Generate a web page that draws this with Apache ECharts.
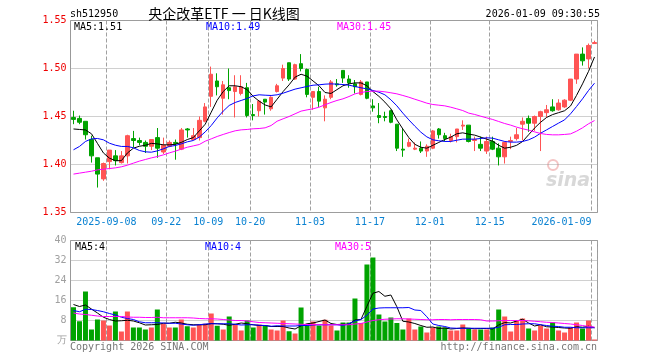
<!DOCTYPE html>
<html><head><meta charset="utf-8">
<script src="https://cdn.jsdelivr.net/npm/echarts@6/dist/echarts.min.js"></script>
<style>html,body{margin:0;padding:0;background:#fff}#c{width:660px;height:360px}</style>
</head><body><div id="c"></div>
<script>
// ---- data ----
const dates = [
'2025-08-29','2025-09-01','2025-09-02','2025-09-03','2025-09-04','2025-09-05','2025-09-08','2025-09-09','2025-09-10','2025-09-11',
'2025-09-12','2025-09-15','2025-09-16','2025-09-17','2025-09-18','2025-09-19','2025-09-22','2025-09-23','2025-09-24','2025-09-25',
'2025-09-26','2025-09-29','2025-09-30','2025-10-09','2025-10-10','2025-10-13','2025-10-14','2025-10-15','2025-10-16','2025-10-17',
'2025-10-20','2025-10-21','2025-10-22','2025-10-23','2025-10-24','2025-10-27','2025-10-28','2025-10-29','2025-10-30','2025-10-31',
'2025-11-03','2025-11-04','2025-11-05','2025-11-06','2025-11-07','2025-11-10','2025-11-11','2025-11-12','2025-11-13','2025-11-14',
'2025-11-17','2025-11-18','2025-11-19','2025-11-20','2025-11-21','2025-11-24','2025-11-25','2025-11-26','2025-11-27','2025-11-28',
'2025-12-01','2025-12-02','2025-12-03','2025-12-04','2025-12-05','2025-12-08','2025-12-09','2025-12-10','2025-12-11','2025-12-12',
'2025-12-15','2025-12-16','2025-12-17','2025-12-18','2025-12-19','2025-12-22','2025-12-23','2025-12-24','2025-12-25','2025-12-26',
'2025-12-29','2025-12-30','2025-12-31','2026-01-05','2026-01-06','2026-01-07','2026-01-08','2026-01-09'];

const opens = [
1.449,1.448,1.445,1.426,1.407,1.385,1.403,1.409,1.402,1.409,1.427,1.425,1.423,1.419,1.428,1.413,1.419,1.423,1.416,1.437,1.426,1.428,
1.445,1.471,1.487,1.469,1.480,1.476,1.474,1.480,1.452,1.456,1.468,1.458,1.476,1.490,1.506,1.489,1.505,1.499,1.470,1.476,1.459,1.470,
1.484,1.498,1.489,1.484,1.473,1.486,1.461,1.451,1.450,1.456,1.442,1.416,1.419,1.416,1.417,1.414,1.417,1.437,1.430,1.425,1.429,1.440,
1.441,1.425,1.421,1.414,1.424,1.417,1.408,1.424,1.427,1.442,1.448,1.443,1.450,1.454,1.460,1.457,1.460,1.467,1.489,1.515,1.510,1.526];
const closes = [
1.447,1.444,1.431,1.409,1.390,1.401,1.415,1.404,1.409,1.430,1.425,1.423,1.419,1.426,1.417,1.420,1.423,1.422,1.436,1.436,1.430,1.446,
1.460,1.494,1.481,1.483,1.477,1.481,1.481,1.451,1.451,1.466,1.465,1.470,1.482,1.500,1.489,1.504,1.500,1.473,1.476,1.466,1.468,1.486,
1.483,1.490,1.485,1.481,1.486,1.469,1.459,1.449,1.449,1.444,1.417,1.415,1.423,1.417,1.414,1.419,1.435,1.431,1.427,1.429,1.437,1.441,
1.424,1.426,1.417,1.424,1.416,1.408,1.423,1.425,1.431,1.445,1.443,1.450,1.455,1.457,1.456,1.464,1.467,1.489,1.515,1.508,1.524,1.527];
const lows = [
1.442,1.442,1.426,1.402,1.376,1.383,1.395,1.399,1.401,1.401,1.418,1.420,1.412,1.415,1.407,1.411,1.418,1.405,1.415,1.428,1.426,1.425,
1.444,1.460,1.472,1.452,1.468,1.449,1.472,1.449,1.446,1.450,1.452,1.456,1.475,1.487,1.487,1.488,1.497,1.470,1.457,1.460,1.445,1.468,
1.481,1.485,1.480,1.474,1.472,1.468,1.455,1.443,1.445,1.443,1.414,1.408,1.418,1.415,1.412,1.408,1.416,1.427,1.424,1.423,1.423,1.436,
1.423,1.414,1.414,1.411,1.415,1.399,1.401,1.416,1.425,1.425,1.434,1.435,1.414,1.449,1.455,1.456,1.459,1.466,1.484,1.503,1.500,1.526];
const highs = [
1.456,1.451,1.445,1.430,1.407,1.402,1.415,1.415,1.414,1.431,1.435,1.428,1.425,1.426,1.438,1.428,1.425,1.426,1.438,1.438,1.438,1.450,
1.464,1.502,1.495,1.487,1.500,1.493,1.493,1.485,1.463,1.467,1.468,1.471,1.484,1.504,1.506,1.505,1.515,1.500,1.476,1.481,1.472,1.488,
1.489,1.498,1.493,1.488,1.488,1.486,1.468,1.464,1.455,1.457,1.442,1.438,1.427,1.423,1.424,1.421,1.436,1.438,1.433,1.432,1.437,1.446,
1.441,1.429,1.429,1.429,1.429,1.422,1.424,1.429,1.438,1.449,1.451,1.451,1.456,1.462,1.468,1.468,1.468,1.489,1.515,1.522,1.526,1.529];

const ma5 = [
1.437,1.4365,1.436,1.432,1.422,1.412,1.4066,1.404,1.404,1.412,1.417,1.419,1.420,1.422,1.4215,1.4205,1.4205,1.421,1.423,1.426,1.428,1.435,
1.442,1.4545,1.467,1.476,1.482,1.482,1.481,1.478,1.471,1.466,1.462,1.460,1.468,1.476,1.483,1.491,1.494,1.492,1.487,1.482,1.475,1.474,
1.478,1.482,1.484,1.485,1.485,1.482,1.476,1.471,1.465,1.458,1.4465,1.437,1.428,1.421,1.418,1.417,1.420,1.423,1.426,1.4285,1.432,1.433,
1.4316,1.4306,1.4285,1.4264,1.4243,1.420,1.417,1.418,1.420,1.424,1.431,1.438,1.444,1.449,1.452,1.454,1.456,1.461,1.472,1.484,1.497,1.512];
const ma10 = [
1.4153,1.4188,1.424,1.4267,1.4271,1.4257,1.4222,1.4201,1.4188,1.4188,1.4174,1.4146,1.4132,1.4128,1.4142,1.4163,1.4188,1.4198,1.4215,1.4236,1.425,1.4285,
1.434,1.4406,1.4486,1.4556,1.4615,1.4646,1.4667,1.4688,1.4715,1.4726,1.4722,1.4719,1.4726,1.4743,1.4764,1.4785,1.4799,1.4813,1.4826,1.483,1.4837,1.484,
1.4837,1.4833,1.4826,1.4813,1.4799,1.4788,1.4771,1.4753,1.4726,1.4674,1.4611,1.4535,1.4465,1.4399,1.4337,1.4288,1.4257,1.4247,1.424,1.424,1.4253,1.4264,
1.4264,1.4264,1.4271,1.4278,1.4274,1.4257,1.424,1.4233,1.4233,1.424,1.4257,1.4285,1.4326,1.4361,1.4396,1.4431,1.4465,1.4528,1.4604,1.4684,1.4771,1.4847];
const ma30 = [
1.390,1.391,1.392,1.393,1.3944,1.3951,1.3958,1.3965,1.3976,1.3993,1.4014,1.4035,1.4052,1.4069,1.4083,1.410,1.4121,1.4139,1.416,1.418,1.4194,1.4208,
1.4243,1.4267,1.4292,1.4313,1.4333,1.4351,1.4361,1.4365,1.4372,1.4375,1.4382,1.4406,1.4451,1.4476,1.450,1.4528,1.4556,1.4569,1.458,1.4597,1.4622,1.4646,
1.4667,1.4684,1.4708,1.4736,1.475,1.476,1.4764,1.4764,1.4757,1.4747,1.4736,1.4719,1.4701,1.468,1.466,1.4639,1.4625,1.4618,1.4611,1.4597,1.458,1.4562,
1.4535,1.4521,1.4503,1.4486,1.4469,1.4448,1.4427,1.441,1.4389,1.4372,1.4358,1.434,1.4323,1.4313,1.4309,1.4309,1.4313,1.4319,1.4347,1.4382,1.4424,1.4458];

const volumes = [
13.3,7.7,19.6,4.4,8.4,8.0,6.0,11.6,3.6,11.6,5.2,5.2,4.4,5.2,12.4,6.7,5.2,5.2,8.4,5.7,5.2,6.3,
6.7,10.8,5.9,4.4,9.6,6.4,4.0,8.0,5.2,6.4,6.0,4.4,4.0,8.0,3.7,2.8,13.2,6.0,7.6,6.0,8.3,6.0,
4.0,7.2,7.2,16.8,7.0,30.4,33.2,10.4,7.6,9.2,7.0,4.4,8.8,4.4,5.6,3.2,5.2,5.6,5.2,4.0,4.0,6.4,
4.8,4.4,4.4,4.4,5.2,12.4,9.6,3.6,8.0,8.8,4.8,4.0,6.0,4.8,7.2,4.0,3.2,5.2,7.2,4.8,8.0,0.4];
const volMa5 = [
14.4,13.6,14.2,12.6,11.0,9.3,8.4,7.8,7.9,8.1,7.8,7.1,6.2,6.3,6.4,6.9,6.9,7.3,7.0,6.5,6.3,6.3,
6.3,6.8,6.7,6.5,6.1,6.5,7.0,6.7,6.3,6.0,6.0,5.6,5.6,5.6,5.0,4.6,5.9,6.7,7.0,7.6,8.2,6.8,
6.4,6.5,6.5,8.2,8.4,13.7,18.9,19.6,17.7,18.2,13.5,7.7,7.4,6.8,6.0,5.3,5.4,4.8,5.0,4.6,4.8,5.0,
4.9,4.7,4.8,4.8,4.6,6.2,7.2,7.0,7.8,8.5,7.0,5.8,6.3,5.5,5.4,5.2,5.0,4.9,5.5,5.3,5.7,5.1];
const volMa10 = [
12.0,11.5,12.5,12.4,12.0,11.5,10.8,10.2,9.3,8.8,8.4,7.5,7.1,7.1,7.1,7.0,6.9,6.9,6.6,6.3,6.1,6.3,
6.6,6.7,6.7,6.7,6.7,6.5,6.2,6.3,6.3,6.1,6.0,5.7,5.9,5.8,5.8,5.8,6.0,6.0,6.2,6.3,6.3,6.3,
6.3,6.0,6.7,7.8,8.4,10.1,12.6,13.0,13.1,13.1,13.1,13.1,13.2,12.2,12.0,9.5,6.6,6.0,5.6,5.0,4.9,4.9,
4.9,4.9,4.9,4.9,4.9,5.3,6.3,6.4,6.4,6.6,6.7,6.7,6.3,6.0,5.7,5.6,5.3,5.3,5.1,5.1,5.1,5.1];
const volMa30 = [
11.0,10.6,10.4,10.1,9.8,9.6,9.6,9.6,9.6,9.4,9.3,9.3,9.2,9.2,9.3,9.1,9.1,9.1,9.1,9.1,9.0,8.8,
8.7,8.7,8.6,8.4,8.2,8.0,8.0,7.8,7.5,7.2,7.1,7.0,6.9,6.8,6.7,6.6,6.5,6.4,6.4,6.3,6.3,6.3,
6.3,6.3,6.3,6.6,6.8,7.4,8.0,8.3,8.5,8.6,8.7,8.7,8.6,8.5,8.4,8.3,8.3,8.4,8.4,8.3,8.4,8.4,
8.4,8.4,8.3,7.8,7.8,7.9,8.0,8.0,8.0,8.0,7.9,7.7,7.5,7.3,7.2,7.0,6.8,6.6,6.3,6.0,5.6,5.4];

const tickIdx  = [6, 16, 23, 30, 40, 50, 60, 70, 87];
const tickText = ['2025-09-08','09-22','10-09','10-20','11-03','11-17','12-01','12-15','2026-01-09'];
const priceTicks = [1.35, 1.40, 1.45, 1.50, 1.55];
const volTicks = [0, 8, 16, 24, 32, 40];

// ---- style ----
const UP = '#ff5454', DOWN = '#00a300';
const MONO = '"DejaVu Sans Mono", "Liberation Mono", monospace';
const GRIDC = '#a0a0a0';
const lastIdx = dates.length - 1;

const chart = echarts.init(document.getElementById('c'), null, {renderer: 'canvas'});
const isTick = (i) => tickIdx.indexOf(i) >= 0;
const mkV = () => ({show: true, interval: (i) => isTick(i), lineStyle: {color: GRIDC, width: 1, type: 'dashed', dashOffset: 0}});
const mkH = () => ({show: true, lineStyle: {color: GRIDC, width: 1, type: 'dotted'}});

const candleData = opens.map((o, i) => [o, closes[i], lows[i], highs[i]]);
const volData = volumes.map((v, i) => ({value: v, itemStyle: {color: closes[i] >= opens[i] ? UP : DOWN}}));
const lineS = (name, data, color, xi, yi) => ({
  name, type: 'line', data, xAxisIndex: xi, yAxisIndex: yi, showSymbol: false, symbol: 'none',
  lineStyle: {color, width: 1}, silent: true, z: 5, animation: false
});

const txt = (x, y, text, fill, font, align) => ({
  type: 'text', x, y, silent: true, z: 10,
  style: {text, fill, font, textAlign: align || 'left', textVerticalAlign: 'middle'}
});

chart.setOption({
  animation: false,
  backgroundColor: '#fff',
  grid: [
    {left: 70.5, top: 20.5, width: 527, height: 192, show: true, borderColor: '#999', borderWidth: 1},
    {left: 70.5, top: 240.5, width: 527, height: 100, show: true, borderColor: '#999', borderWidth: 1}
  ],
  xAxis: [
    {type: 'category', gridIndex: 0, data: dates, boundaryGap: true,
     axisLine: {show: false}, axisTick: {show: false}, splitLine: mkV(),
     axisLabel: {show: true, interval: (i) => isTick(i), margin: 5, color: '#0a82d2', fontFamily: MONO, fontSize: 10,
       formatter: (v, i) => { const k = tickIdx.indexOf(i); if (k < 0) return ''; return (i === lastIdx ? '{e|' : '{c|') + tickText[k] + '}'; },
       rich: {c: {padding: [0, 6, 0, 0], color: '#0a82d2', fontFamily: MONO, fontSize: 10},
              e: {padding: [0, 66, 0, 0], color: '#0a82d2', fontFamily: MONO, fontSize: 10}}}},
    {type: 'category', gridIndex: 1, data: dates, boundaryGap: true,
     axisLine: {show: false}, axisTick: {show: false}, axisLabel: {show: false}, splitLine: mkV()}
  ],
  yAxis: [
    {type: 'value', gridIndex: 0, min: priceTicks[0], max: priceTicks[priceTicks.length - 1], interval: 0.05,
     axisLine: {show: false}, axisTick: {show: false}, splitLine: mkH(),
     axisLabel: {color: '#ee0000', fontFamily: MONO, fontSize: 10, margin: 4, formatter: (v) => v.toFixed(2)}},
    {type: 'value', gridIndex: 1, min: volTicks[0], max: volTicks[volTicks.length - 1], interval: 8,
     axisLine: {show: false}, axisTick: {show: false}, splitLine: mkH(),
     axisLabel: {color: '#a0a0a0', fontFamily: MONO, fontSize: 10, margin: 4, formatter: (v) => v === 0 ? '万' : String(v)}}
  ],
  series: [
    {type: 'candlestick', xAxisIndex: 0, yAxisIndex: 0, data: candleData, barWidth: 4, silent: true, z: 3,
     itemStyle: {color: UP, color0: DOWN, borderColor: UP, borderColor0: DOWN, borderWidth: 1}},
    lineS('MA5', ma5, '#000000', 0, 0),
    lineS('MA10', ma10, '#0000ff', 0, 0),
    lineS('MA30', ma30, '#ff00ff', 0, 0),
    {type: 'bar', xAxisIndex: 1, yAxisIndex: 1, data: volData, barWidth: 5, silent: true, z: 3},
    lineS('VMA5', volMa5, '#000000', 1, 1),
    lineS('VMA10', volMa10, '#0000ff', 1, 1),
    lineS('VMA30', volMa30, '#ff00ff', 1, 1)
  ],
  graphic: [
    txt(70, 14, 'sh512950', '#000', '10px ' + MONO),
    txt(224, 14, '央企改革ETF 一 日K线图', '#000', '14px "Noto Sans CJK SC", sans-serif', 'center'),
    txt(600, 14, '2026-01-09 09:30:55', '#000', '10px ' + MONO, 'right'),
    txt(74, 27, 'MA5:1.51', '#000', '10px ' + MONO),
    txt(206, 27, 'MA10:1.49', '#0000ff', '10px ' + MONO),
    txt(337, 27, 'MA30:1.45', '#ff00ff', '10px ' + MONO),
    txt(75, 247, 'MA5:4', '#000', '10px ' + MONO),
    txt(205, 247, 'MA10:4', '#0000ff', '10px ' + MONO),
    txt(335, 247, 'MA30:5', '#ff00ff', '10px ' + MONO),
    txt(70, 347, 'Copyright 2026 SINA.COM', '#777', '10px ' + MONO),
    txt(597, 347, 'http://finance.sina.com.cn', '#777', '10px ' + MONO, 'right'),
    {type: 'circle', shape: {cx: 553, cy: 165, r: 5}, style: {fill: 'none', stroke: '#f4c4c4', lineWidth: 2}, silent: true, z: 0},
    {type: 'text', x: 568, y: 181, silent: true, z: 0,
     style: {text: 'sina', fill: '#d8d8d8', font: 'italic bold 19px "DejaVu Sans", sans-serif', textAlign: 'center', textVerticalAlign: 'middle'}}
  ]
});
</script></body></html>
